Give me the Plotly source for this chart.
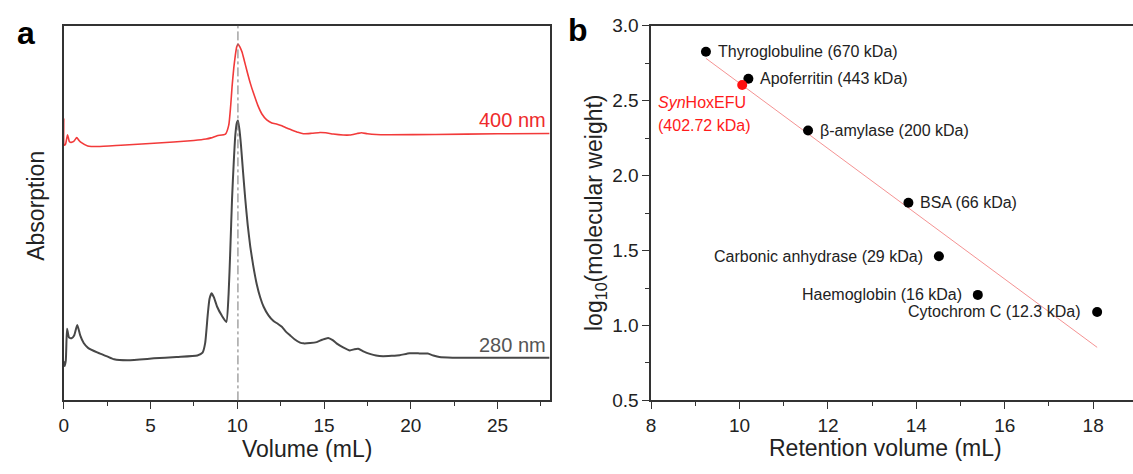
import numpy as np
import plotly.graph_objects as go

# ---------------- Data: panel a (SEC chromatogram, arbitrary absorption units) ----------------
vol_280 = [0.00, 0.05, 0.12, 0.19, 0.30, 0.45, 0.60, 0.78, 0.95, 1.15, 1.40, 1.96, 2.50, 2.90, 3.70,
           5.20, 6.50, 7.70, 8.00, 8.15, 8.30, 8.40, 8.52, 8.65, 8.84, 9.10, 9.37, 9.50, 9.60, 9.70,
           9.80, 9.89, 9.97, 10.04, 10.12, 10.21, 10.33, 10.46, 10.60, 10.75, 10.93, 11.13, 11.32,
           11.52, 11.80, 12.09, 12.35, 12.57, 12.80, 13.05, 13.30, 13.62, 13.81, 14.20, 14.58, 14.90,
           15.24, 15.50, 15.72, 16.10, 16.49, 16.75, 16.97, 17.30, 17.64, 18.00, 18.40, 18.90, 19.36,
           19.93, 20.50, 20.98, 21.30, 21.65, 22.41, 25.28, 28.00]
abs_280 = [41, 36, 42, 75, 66, 65, 68, 79, 68, 60, 55, 50, 46, 43, 42,
           44, 45.5, 47, 50, 60, 90, 106, 112, 108, 98, 89, 82, 111, 158, 211,
           250, 278, 290, 293, 284, 268, 240, 211, 184, 161, 140, 121, 108,
           98, 89, 83, 80, 77, 72, 68, 64, 60.5, 59.7, 60, 61, 63.5,
           65.3, 63, 59.7, 55.5, 52.3, 53.5, 54, 51, 48.7, 47, 46.3, 46.7, 47.3,
           49.3, 49.2, 49, 47, 45.3, 44.7, 44.7, 44.7]

vol_400 = [0.00, 0.03, 0.10, 0.22, 0.32, 0.41, 0.58, 0.75, 0.88, 1.00, 1.38, 1.96, 3.30, 5.20, 7.50,
           8.20, 8.49, 8.84, 9.32, 9.51, 9.62, 9.70, 9.80, 9.89, 9.97, 10.04, 10.15, 10.27, 10.40,
           10.56, 10.75, 10.94, 11.18, 11.42, 11.70, 11.99, 12.30, 12.57, 12.85, 13.14, 13.50, 13.81,
           14.30, 14.77, 15.10, 15.53, 16.10, 16.49, 16.90, 17.16, 17.50, 18.00, 18.75, 21.40, 25.00, 28.00]
abs_400 = [295, 267, 268, 278, 271, 270, 271, 275, 272, 270, 266.3, 265.7, 267, 269, 272,
           273.5, 274.7, 277, 278.7, 288, 308, 328, 348, 361.3, 370, 373, 370, 364.7, 356,
           344.7, 332, 321.3, 309, 299.7, 293.5, 290.3, 289, 287.3, 285, 283, 280.5, 279,
           279.5, 280.3, 280, 278.7, 277.7, 277.7, 279.2, 280, 279, 278.2, 278, 278.3, 279, 279.3]

peak_volume = 10.04

# ---------------- Data: panel b (calibration) ----------------
standards = ["Thyroglobuline", "Apoferritin", "β-amylase", "BSA",
             "Carbonic anhydrase", "Haemoglobin", "Cytochrom C"]
mw_kda = [670, 443, 200, 66, 29, 16, 12.3]
mw_text = ["670", "443", "200", "66", "29", "16", "12.3"]
ret_vol = [9.24, 10.20, 11.55, 13.82, 14.51, 15.39, 18.09]
label_side = ["right", "right", "right", "right", "left", "left", "left"]

sample_name = "SynHoxEFU"
sample_mw = 402.72
sample_vol = 10.06

log_mw = np.log10(mw_kda)
slope, intercept = np.polyfit(ret_vol, log_mw, 1)
fit_x = np.array([min(ret_vol), max(ret_vol)])
fit_y = slope * fit_x + intercept

# ---------------- Figure ----------------
W, H = 1133, 474
FONT = "Arial, 'Liberation Sans', sans-serif"
TXT = "#222222"
AX = "#333333"


def px_x(p):
    return p / W


def px_y(p):
    return 1 - p / H


fig = go.Figure()

fig.add_trace(go.Scatter(x=vol_400, y=abs_400, mode="lines", xaxis="x", yaxis="y",
                         line=dict(color="#f23a3a", width=1.6, shape="spline", smoothing=0.5),
                         showlegend=False, hoverinfo="skip"))
fig.add_trace(go.Scatter(x=vol_280, y=abs_280, mode="lines", xaxis="x", yaxis="y",
                         line=dict(color="#474747", width=2, shape="spline", smoothing=0.5),
                         showlegend=False, hoverinfo="skip"))

fig.add_shape(type="line", xref="x", yref="y domain", x0=peak_volume, x1=peak_volume, y0=0, y1=1,
              line=dict(color="#777777", width=1, dash="dashdot"))

# panel b
fig.add_trace(go.Scatter(x=fit_x, y=fit_y, mode="lines", xaxis="x2", yaxis="y2",
                         line=dict(color="rgba(240,110,110,0.75)", width=1),
                         showlegend=False, hoverinfo="skip"))
fig.add_trace(go.Scatter(x=ret_vol, y=log_mw, mode="markers", xaxis="x2", yaxis="y2",
                         marker=dict(color="black", size=10),
                         showlegend=False))
fig.add_trace(go.Scatter(x=[sample_vol], y=[np.log10(sample_mw)], mode="markers", xaxis="x2", yaxis="y2",
                         marker=dict(color="#ff1010", size=10),
                         showlegend=False))

ann = []
for name, mwt, xv, yv, side in zip(standards, mw_text, ret_vol, log_mw, label_side):
    ann.append(dict(x=xv, y=yv, xref="x2", yref="y2", showarrow=False,
                    text=f"{name} ({mwt} kDa)",
                    xanchor="left" if side == "right" else "right",
                    xshift=10 if side == "right" else -14,
                    font=dict(family=FONT, size=16, color=TXT)))

ann.append(dict(x=sample_vol, y=np.log10(sample_mw), xref="x2", yref="y2", showarrow=False,
                text="<i>Syn</i>HoxEFU", xanchor="left", xshift=-86, yshift=-18,
                font=dict(family=FONT, size=16, color="#ff1a1a")))
ann.append(dict(x=sample_vol, y=np.log10(sample_mw), xref="x2", yref="y2", showarrow=False,
                text=f"({sample_mw:.2f} kDa)", xanchor="left", xshift=-86, yshift=-41,
                font=dict(family=FONT, size=16, color="#ff1a1a")))

# curve labels
ann.append(dict(x=27.9, y=abs_400[-1], xref="x", yref="y", showarrow=False, text="400 nm",
                xanchor="right", yanchor="bottom", yshift=0,
                font=dict(family=FONT, size=20, color="#ee2b2b")))
ann.append(dict(x=27.9, y=abs_280[-1], xref="x", yref="y", showarrow=False, text="280 nm",
                xanchor="right", yanchor="bottom", yshift=0,
                font=dict(family=FONT, size=20, color="#555555")))

# panel letters and axis titles
ann.append(dict(x=px_x(21), y=px_y(24), xref="paper", yref="paper", showarrow=False, text="<b>a</b>",
                xanchor="center", yanchor="middle", font=dict(family=FONT, size=32, color="black")))
ann.append(dict(x=px_x(576), y=px_y(21), xref="paper", yref="paper", showarrow=False, text="<b>b</b>",
                xanchor="center", yanchor="middle", font=dict(family=FONT, size=32, color="black")))
ann.append(dict(x=px_x(303), y=px_y(459), xref="paper", yref="paper", showarrow=False, text="Volume (mL)",
                xanchor="center", yanchor="middle", font=dict(family=FONT, size=23, color=TXT)))
ann.append(dict(x=px_x(884), y=px_y(458), xref="paper", yref="paper", showarrow=False,
                text="Retention volume (mL)",
                xanchor="center", yanchor="middle", font=dict(family=FONT, size=23, color=TXT)))
ann.append(dict(x=px_x(31), y=px_y(205), xref="paper", yref="paper", showarrow=False, text="Absorption",
                textangle=-90, xanchor="center", yanchor="middle",
                font=dict(family=FONT, size=23, color=TXT)))
ann.append(dict(x=px_x(593), y=px_y(212), xref="paper", yref="paper", showarrow=False,
                text="log<sub>10</sub>(molecular weight)",
                textangle=-90, xanchor="center", yanchor="middle",
                font=dict(family=FONT, size=23, color=TXT)))

top_px, bot_px = 16.5, 408.5
ydom = [px_y(bot_px), px_y(top_px)]

fig.update_layout(
    width=W, height=H,
    margin=dict(l=0, r=0, t=0, b=0),
    paper_bgcolor="white", plot_bgcolor="white",
    font=dict(family=FONT, color=TXT),
    showlegend=False,
    xaxis=dict(domain=[px_x(59), px_x(547)], range=[0, 28], anchor="y",
               tickvals=[0, 5, 10, 15, 20, 25], ticks="outside", ticklen=7, tickwidth=1.3, tickcolor=AX,
               minor=dict(tickvals=[2.5, 7.5, 12.5, 17.5, 22.5, 27.5], ticks="outside", ticklen=4,
                          tickwidth=1.3, tickcolor=AX),
               showline=True, linecolor=AX, linewidth=1.5, mirror=True,
               showgrid=False, zeroline=False,
               tickfont=dict(family=FONT, size=19, color=TXT)),
    yaxis=dict(domain=ydom, range=[0, 392], anchor="x",
               showticklabels=False, ticks="",
               showline=True, linecolor=AX, linewidth=1.5, mirror=True,
               showgrid=False, zeroline=False),
    xaxis2=dict(domain=[px_x(649), 1.0], range=[8, 8 + (W - 649) / 44.4], anchor="y2",
                tickvals=[8, 10, 12, 14, 16, 18], ticks="outside", ticklen=7, tickwidth=1.3, tickcolor=AX,
                minor=dict(tickvals=[9, 11, 13, 15, 17], ticks="outside", ticklen=4,
                           tickwidth=1.3, tickcolor=AX),
                showline=True, linecolor=AX, linewidth=1.5, mirror=True,
                showgrid=False, zeroline=False,
                tickfont=dict(family=FONT, size=19, color=TXT)),
    yaxis2=dict(domain=ydom, range=[0.5, 3.0], anchor="x2",
                tickvals=[0.5, 1.0, 1.5, 2.0, 2.5, 3.0], ticktext=["0.5", "1.0", "1.5", "2.0", "2.5", "3.0"],
                ticks="outside", ticklen=7, tickwidth=1.3, tickcolor=AX,
                minor=dict(tickvals=[0.75, 1.25, 1.75, 2.25, 2.75], ticks="outside", ticklen=4,
                           tickwidth=1.3, tickcolor=AX),
                showline=True, linecolor=AX, linewidth=1.5, mirror=False,
                showgrid=False, zeroline=False,
                tickfont=dict(family=FONT, size=19, color=TXT)),
    annotations=ann,
)

fig.write_html("out.html")
